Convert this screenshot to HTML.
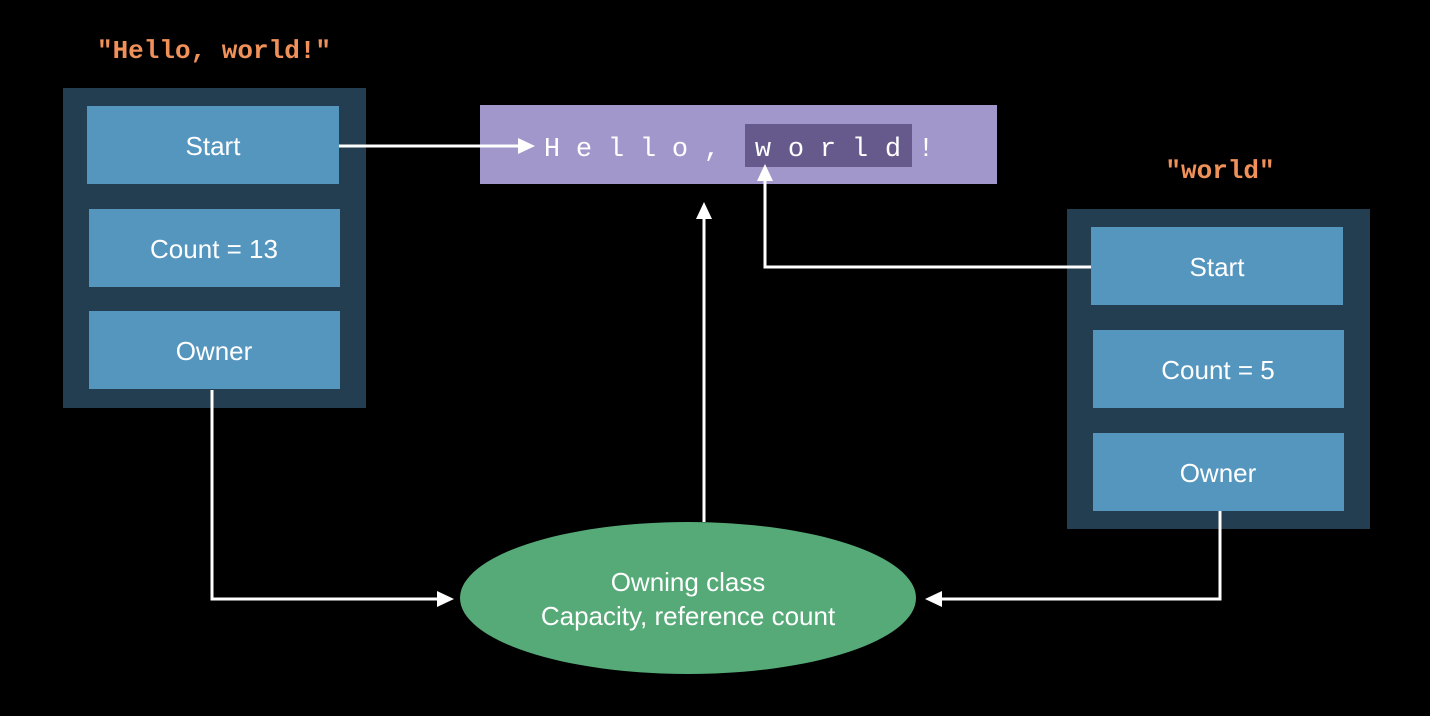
<!DOCTYPE html>
<html><head><meta charset="utf-8"><style>
html,body{margin:0;padding:0;background:#000;width:1430px;height:716px;overflow:hidden}
svg{display:block}
.b{font-family:"Liberation Sans",sans-serif;font-size:26px;fill:#fff;text-anchor:middle}
.m{font-family:"Liberation Mono",monospace;font-size:27px;fill:#fff;text-anchor:middle}
.o{font-family:"Liberation Mono",monospace;font-size:26px;font-weight:bold;fill:#f0915a;text-anchor:middle}
</style></head><body>
<svg width="1430" height="716" viewBox="0 0 1430 716">
<rect width="1430" height="716" fill="#000"/>
<text class="o" x="214" y="58">"Hello, world!"</text>
<text class="o" x="1220" y="178">"world"</text>
<rect x="63" y="88" width="303" height="320" fill="#233d51"/>
<rect x="87" y="106" width="252" height="78" fill="#5596bf"/>
<rect x="89" y="209" width="251" height="78" fill="#5596bf"/>
<rect x="89" y="311" width="251" height="78" fill="#5596bf"/>
<text class="b" x="213" y="155">Start</text>
<text class="b" x="214" y="258">Count = 13</text>
<text class="b" x="214" y="360">Owner</text>
<rect x="1067" y="209" width="303" height="320" fill="#233d51"/>
<rect x="1091" y="227" width="252" height="78" fill="#5596bf"/>
<rect x="1093" y="330" width="251" height="78" fill="#5596bf"/>
<rect x="1093" y="433" width="251" height="78" fill="#5596bf"/>
<text class="b" x="1217" y="276">Start</text>
<text class="b" x="1218" y="379">Count = 5</text>
<text class="b" x="1218" y="482">Owner</text>
<rect x="480" y="105" width="517" height="79" fill="#a197cb"/>
<rect x="745" y="124" width="167" height="43" fill="#665a8c"/>
<g class="m">
<text x="552" y="156">H</text><text x="584" y="156">e</text><text x="616" y="156">l</text><text x="648" y="156">l</text><text x="680" y="156">o</text><text x="712" y="156">,</text>
<text x="763" y="156">w</text><text x="796" y="156">o</text><text x="828" y="156">r</text><text x="860" y="156">l</text><text x="893" y="156">d</text><text x="926" y="156">!</text>
</g>
<ellipse cx="688" cy="598" rx="228" ry="76" fill="#56aa78"/>
<text class="b" x="688" y="591">Owning class</text>
<text class="b" x="688" y="625">Capacity, reference count</text>
<g stroke="#fff" stroke-width="3" fill="none">
<path d="M339 146 H520"/>
<path d="M704 522 V217"/>
<path d="M1091 267 H765 V180"/>
<path d="M212 390 V599 H440"/>
<path d="M1220 511 V599 H940"/>
</g>
<g fill="#fff">
<polygon points="535,146 518,138 518,154"/>
<polygon points="704,202 696,219 712,219"/>
<polygon points="765,164 757,181 773,181"/>
<polygon points="454,599 437,591 437,607"/>
<polygon points="925,599 942,591 942,607"/>
</g>
</svg>
</body></html>
